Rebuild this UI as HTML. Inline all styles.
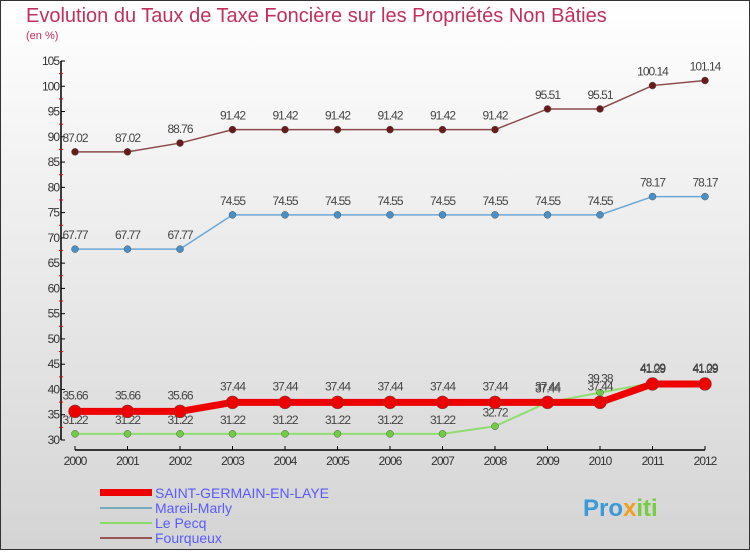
<!DOCTYPE html>
<html><head><meta charset="utf-8"><style>
body{margin:0;width:750px;height:550px;overflow:hidden;font-family:"Liberation Sans",sans-serif}
svg text{font-family:"Liberation Sans",sans-serif}
</style></head><body>
<svg id="chart" width="750" height="550" xmlns="http://www.w3.org/2000/svg">
<defs><linearGradient id="bg" x1="0" y1="0" x2="0" y2="1"><stop offset="0" stop-color="#ffffff"/><stop offset="1" stop-color="#d4d4d4"/></linearGradient></defs>
<rect x="0.5" y="0.5" width="749" height="549" fill="url(#bg)" stroke="#333"/>
<text x="26" y="22" font-size="20" fill="#c0305a">Evolution du Taux de Taxe Foncière sur les Propriétés Non Bâties</text>
<text x="26" y="39" font-size="11" fill="#c0305a">(en %)</text>
<g id="axes"></g><g id="series"></g>
<g>
<rect x="100" y="489" width="52" height="7" fill="#e00"/>
<text x="155" y="498" font-size="14" fill="#5a5aff">SAINT-GERMAIN-EN-LAYE</text>
<rect x="100" y="507" width="52" height="2" fill="#7ab"/>
<text x="155" y="513" font-size="14" fill="#5a5aff">Mareil-Marly</text>
<rect x="100" y="522" width="52" height="2" fill="#8d6"/>
<text x="155" y="528" font-size="14" fill="#5a5aff">Le Pecq</text>
<rect x="100" y="537" width="52" height="2" fill="#955"/>
<text x="155" y="543" font-size="14" fill="#5a5aff">Fourqueux</text>
</g>
<text x="583" y="516" font-size="24" font-weight="bold" fill="#3a9ad8">Pro<tspan fill="#f0a020">x</tspan><tspan fill="#7c4">iti</tspan></text>
</svg>
<script>
const years=[2000,2001,2002,2003,2004,2005,2006,2007,2008,2009,2010,2011,2012];
const yTicks=[30,35,40,45,50,55,60,65,70,75,80,85,90,95,100,105];
const stGermain=[35.66,35.66,35.66,37.44,37.44,37.44,37.44,37.44,37.44,37.44,37.44,41.09,41.09];
const mareil=[67.77,67.77,67.77,74.55,74.55,74.55,74.55,74.55,74.55,74.55,74.55,78.17,78.17];
const pecq=[31.22,31.22,31.22,31.22,31.22,31.22,31.22,31.22,32.72,37.44,39.38,41.29,41.29];
const fourqueux=[87.02,87.02,88.76,91.42,91.42,91.42,91.42,91.42,91.42,95.51,95.51,100.14,101.14];
const NS="http://www.w3.org/2000/svg";
const X=i=>75+i*52.5, Y=v=>440-(v-30)*379/75;
function mk(t,a,p){const e=document.createElementNS(NS,t);for(const k in a)e.setAttribute(k,a[k]);p.appendChild(e);return e;}
const ax=document.getElementById('axes');
let e=mk('line',{x1:61,y1:Y(105),x2:61,y2:Y(30),stroke:'#000','stroke-width':1.5},ax);


e=mk('line',{x1:X(0),y1:450,x2:X(12),y2:450,stroke:'#000','stroke-width':1.5},ax);


yTicks.forEach(v=>{mk('line',{x1:61,y1:Y(v),x2:65,y2:Y(v),stroke:'#000'},ax);
 if(v<105)mk('line',{x1:59,y1:Y(v+2.5),x2:63,y2:Y(v+2.5),stroke:'#e00'},ax);
 const t=mk('text',{x:59,y:Y(v)+4,'font-size':12,'text-anchor':'end',fill:'#333','letter-spacing':'-1'},ax);t.textContent=v;
 
 });
years.forEach((y,i)=>{mk('line',{x1:X(i),y1:446,x2:X(i),y2:450,stroke:'#000'},ax);
 const t=mk('text',{x:X(i),y:465,'font-size':12,'text-anchor':'middle',fill:'#333','letter-spacing':'-1'},ax);t.textContent=y;
 
 });
const sg=document.getElementById('series');
function series(name,vals,color,w,r,dot,labelDy){
 const g=mk('g',{},sg);
 
 
 mk('polyline',{points:vals.map((v,i)=>X(i)+','+Y(v)).join(' '),fill:'none',stroke:color,'stroke-width':w},g);
 vals.forEach((v,i)=>{const c=mk('circle',{cx:X(i),cy:Y(v),r:r,fill:dot,stroke:'#555','stroke-width':0.5},g);
  
  
  const t=mk('text',{x:X(i),y:Y(v)+labelDy,'font-size':12,'text-anchor':'middle',fill:'#444','letter-spacing':'-1'},g);t.textContent=v.toFixed(2);
  
  });
}
series('fourqueux-line',fourqueux,'#8a4a4a',1.5,3.5,'#6a1a1a',-10);
series('mareil-line',mareil,'#6aa8d8',1.5,3.5,'#4a90c8',-10);
series('pecq-line',pecq,'#90dd70',2,3.5,'#70cc40',-10);
series('saint-germain-line',stGermain,'#ee0000',7,6.5,'#ee0000',-12);
</script>
</body></html>
